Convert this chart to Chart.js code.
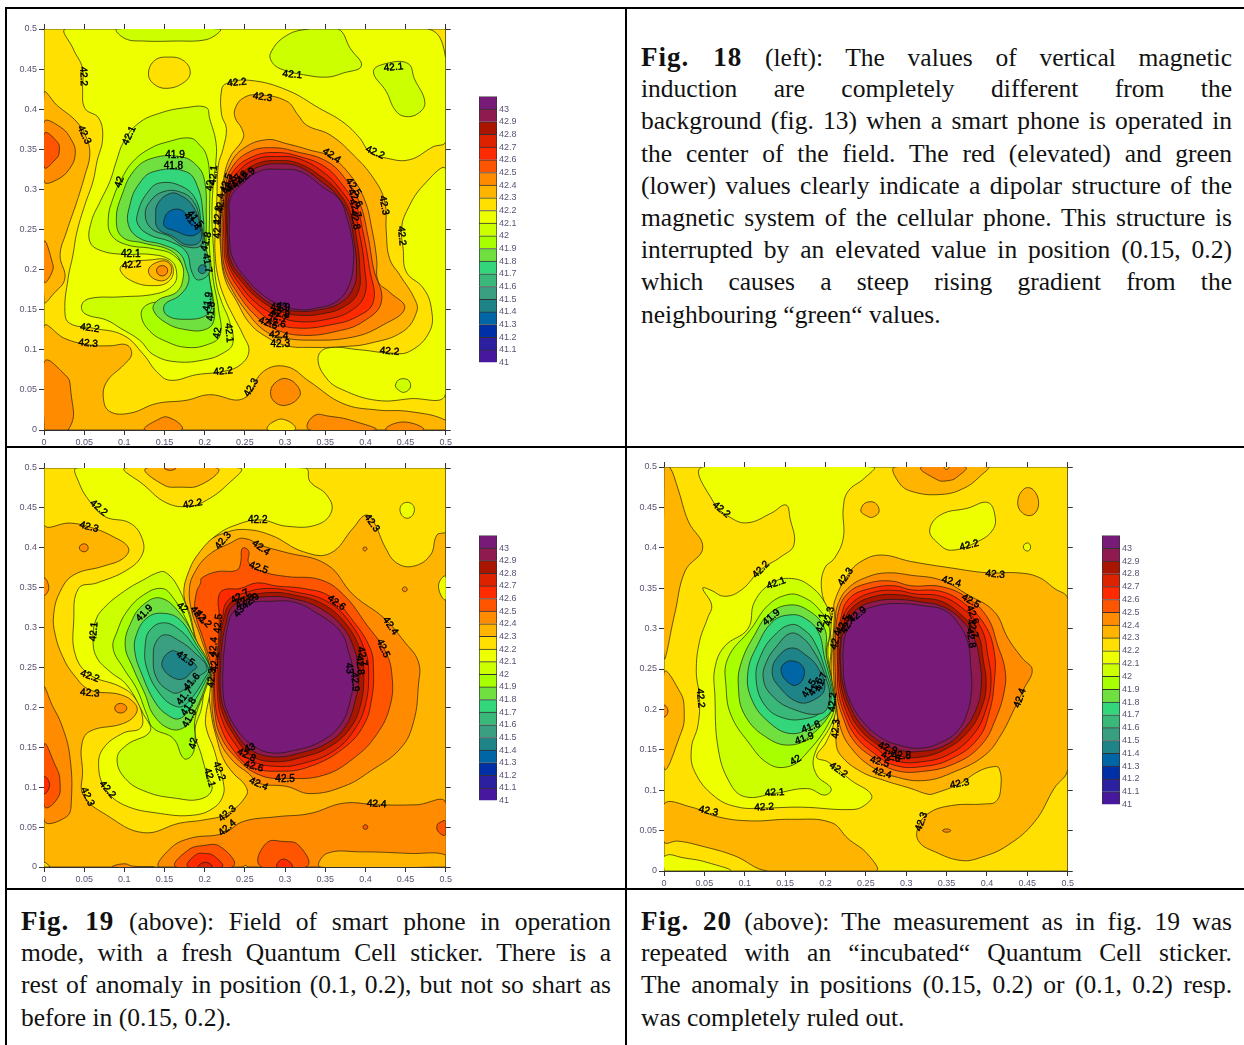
<!DOCTYPE html>
<html>
<head>
<meta charset="utf-8">
<title>Fig. 18-20</title>
<script src="https://cdn.jsdelivr.net/npm/chart.js@4"></script>
<style>
html, body { margin: 0; padding: 0; background: #fff; }
#page { position: relative; width: 1244px; height: 1045px; overflow: hidden; }
#page canvas { position: absolute; }
.rule { position: absolute; background: #000; }
.line { position: absolute; height: 32px; line-height: 32px; font-family: "Liberation Serif", serif; font-size: 25.5px;
        color: #111; white-space: nowrap; text-align: justify; text-align-last: justify; }
.line.last { text-align-last: left; }
.line b { letter-spacing: 1px; font-size: 27px; }
</style>
</head>
<body>
<div id="page"></div>
<script>
// axis values, in thousandths of the axis unit for the contour vertices
const axisMax = 0.5;
const axisStep = 0.05;

// legend levels, low to high, and the colour of the band that starts at each level
const levels = [41, 41.1, 41.2, 41.3, 41.4, 41.5, 41.6, 41.7, 41.8, 41.9, 42, 42.1, 42.2, 42.3, 42.4, 42.5, 42.6, 42.7, 42.8, 42.9, 43];
const levelTops = [41.1, 41.2, 41.3, 41.4, 41.5, 41.6, 41.7, 41.8, 41.9, 42, 42.1, 42.2, 42.3, 42.4, 42.5, 42.6, 42.7, 42.8, 42.9, 43, 43.1];
const bandColors = ['#47189e', '#2c1fa0', '#0030a8', '#0066a6', '#1f8488', '#3a9e80', '#3ab87a', '#33d67a', '#70e040', '#a8ff00',
    '#ccff00', '#eeff00', '#ffe000', '#ffb400', '#ff8c00', '#ff5500', '#ff2a00', '#dd2200', '#aa1500', '#8e1a50', '#771a78'];

// contours: [band level, x,y,x,y,...], painted in this order
const fig18Contours = [
    [42.2, [0,0, 500,0, 500,500, 0,500]],
    [42.1, [28,500, 476,500, 500,463, 500,360, 484,353, 455,337, 426,339, 405,347, 393,364, 372,384, 343,401, 302,424, 256,436, 227,432, 221,424, 221,393, 227,376, 223,351, 217,330, 215,285, 213,247, 213,218, 217,189, 225,164, 235,143, 248,118, 255,98, 244,81, 223,73, 190,69, 157,62, 140,73, 124,94, 99,118, 61,127, 32,133, 26,148, 30,189, 36,218, 41,247, 51,281, 61,310, 66,335, 73,364, 68,389, 51,401, 48,426, 48,451, 36,476]],
    [42.1, [341,89, 352,102, 393,100, 430,96, 455,98, 480,123, 482,152, 472,177, 451,197, 447,226, 445,251, 451,272, 472,305, 500,324, 500,46, 455,39, 414,37, 372,50, 352,64]],
    [42.3, [0,420, 16,405, 41,384, 53,364, 57,343, 51,318, 41,285, 28,247, 20,218, 26,189, 12,170, 0,160]],
    [42.4, [0,384, 20,378, 34,362, 39,345, 32,326, 16,312, 0,310]],
    [42.5, [0,369, 14,362, 19,348, 12,335, 0,328]],
    [42.4, [0,235, 10,210, 10,197, 0,185]],
    [42.3, [0,129, 26,114, 57,106, 82,105, 103,106, 109,94, 99,81, 78,60, 74,39, 82,23, 107,21, 140,33, 177,37, 206,44, 248,39, 273,73, 302,79, 331,60, 372,33, 414,25, 455,23, 500,12, 500,0, 0,0]],
    [42.4, [0,84, 24,71, 33,52, 30,0, 0,0]],
    [42.4, [282,48, 289,60, 302,64, 316,54, 318,42, 302,31, 287,35]],
    [42.4, [126,0, 140,12, 157,15, 171,0]],
    [42.2, [279,0, 285,10, 302,12, 312,0]],
    [42.4, [331,0, 335,17, 356,17, 389,10, 412,0]],
    [42.4, [426,0, 447,10, 472,0]],
    [42.2, [130,445, 138,461, 155,465, 173,461, 182,447, 175,434, 153,426, 136,432]],
    [42, [91,500, 101,488, 124,485, 165,485, 198,486, 213,492, 219,500]],
    [42, [282,470, 302,492, 331,500, 366,500, 381,476, 395,454, 372,445, 352,440, 323,443, 298,449, 285,457]],
    [42, [410,447, 426,457, 453,457, 461,438, 474,409, 466,395, 449,391, 437,399, 426,422]],
    [42, [438,58, 447,64, 456,58, 451,48, 441,50]],
    [42, [202,402, 177,402, 144,395, 117,382, 99,359, 90,335, 82,310, 70,285, 59,260, 57,235, 70,224, 99,219, 132,219, 157,212, 165,197, 161,181, 140,170, 95,166, 57,164, 47,156, 51,145, 78,137, 95,127, 119,112, 136,94, 165,85, 202,88, 223,96, 235,108, 231,135, 221,160, 214,185, 211,226, 209,268, 211,310, 214,335, 214,359, 206,389]],
    [41.9, [182,364, 153,359, 132,351, 111,335, 97,314, 86,289, 80,264, 84,243, 103,231, 136,226, 161,218, 175,197, 169,172, 153,162, 128,156, 121,143, 132,123, 153,110, 177,103, 202,106, 219,118, 217,152, 211,185, 206,226, 206,268, 206,318, 202,343, 194,355]],
    [41.8, [169,341, 132,338, 111,322, 97,293, 90,264, 97,241, 124,233, 157,224, 171,208, 173,189, 165,172, 142,162, 136,150, 153,133, 177,125, 200,125, 211,135, 211,160, 206,189, 202,226, 202,268, 200,310, 190,330]],
    [41.7, [177,322, 136,322, 117,305, 107,281, 105,256, 119,239, 148,231, 169,220, 177,202, 180,185, 169,168, 150,156, 153,143, 177,138, 202,143, 209,156, 206,189, 200,226, 198,268, 192,301]],
    [41.6, [144,308, 128,295, 117,272, 117,256, 132,243, 157,235, 177,222, 184,197, 192,187, 206,197, 202,226, 196,256, 190,285, 173,303]],
    [41.5, [148,297, 132,285, 126,268, 134,251, 157,241, 175,229, 196,231, 194,260, 186,285, 169,297]],
    [41.4, [157,295, 142,283, 139,268, 142,251, 161,241, 177,231, 194,235, 194,256, 184,281, 169,293]],
    [41.3, [149,260, 155,272, 169,275, 180,266, 194,251, 194,247, 182,242, 161,249, 151,253]],
    [41.4, [192,200, 197,206, 202,200, 197,195]],
    [42.2, [95,199, 101,208, 132,212, 153,212, 161,200, 155,185, 136,180, 111,185]],
    [42.3, [130,199, 138,208, 153,210, 159,199, 151,187, 136,189]],
    [42.4, [140,199, 147,205, 154,199, 147,192]],
    [42.3, [238,401, 248,414, 267,418, 302,410, 316,393, 327,380, 356,368, 385,343, 410,314, 424,285, 426,247, 430,214, 443,193, 461,164, 464,148, 447,123, 405,108, 372,104, 331,103, 302,105, 277,116, 256,133, 240,160, 225,189, 220,226, 218,268, 223,310, 231,339, 248,364, 246,376, 238,389]],
    [42.4, [223,301, 231,330, 248,351, 277,362, 302,357, 331,349, 356,341, 381,318, 399,287, 408,251, 414,214, 416,185, 430,172, 449,152, 422,131, 385,116, 331,112, 294,116, 273,125, 252,148, 233,177, 223,202, 220,235, 220,268]],
    [42.5, [225,297, 233,326, 256,347, 285,352, 314,347, 352,335, 376,312, 393,283, 403,243, 410,202, 420,160, 397,135, 364,123, 323,118, 289,125, 265,141, 240,172, 225,202, 222,235, 222,268]],
    [42.6, [227,297, 235,322, 260,341, 289,346, 318,341, 350,328, 372,305, 389,278, 397,247, 405,202, 410,160, 389,141, 356,131, 318,127, 289,133, 265,150, 242,177, 227,206, 224,235, 224,268]],
    [42.7, [228,297, 238,318, 262,337, 294,341, 318,338, 347,322, 368,301, 385,274, 393,243, 399,202, 399,168, 381,148, 352,138, 318,135, 294,141, 267,156, 244,181, 229,208, 226,235, 226,268]],
    [42.8, [229,297, 240,314, 265,332, 294,336, 318,332, 345,316, 366,297, 381,272, 389,239, 393,202, 391,172, 374,154, 347,145, 318,143, 294,148, 269,162, 246,185, 231,208, 228,235, 227,268]],
    [42.9, [231,293, 244,312, 267,328, 294,332, 318,328, 345,310, 366,291, 379,268, 386,235, 389,202, 385,177, 368,158, 343,150, 318,148, 294,152, 271,165, 248,189, 233,210, 229,235, 229,268]],
    [43, [232,289, 248,308, 269,323, 294,325, 320,322, 347,303, 368,287, 377,264, 384,235, 385,206, 379,179, 364,160, 339,152, 318,150, 294,156, 273,168, 250,191, 235,214, 231,235, 231,264]]
];

const fig19Contours = [
    [42.3, [0,0, 500,0, 500,500, 0,500]],
    [42.2, [0,500, 0,429, 32,431, 57,426, 86,414, 105,400, 99,387, 74,377, 37,366, 20,345, 12,316, 14,291, 24,262, 37,241, 57,222, 95,216, 113,205, 115,193, 99,180, 57,170, 47,153, 48,120, 49,90, 78,65, 124,43, 169,55, 199,59, 228,67, 252,90, 250,103, 236,117, 223,136, 215,161, 209,186, 205,224, 206,249, 199,266, 186,291, 172,341, 172,375, 186,395, 203,408, 223,418, 248,423, 282,416, 323,395, 356,393, 385,425, 400,441, 410,433, 425,400, 439,381, 460,377, 481,391, 489,416, 500,421, 500,500]],
    [42.1, [41,500, 43,483, 57,458, 76,439, 107,431, 122,412, 122,391, 103,372, 66,356, 43,349, 37,308, 39,266, 57,241, 95,226, 113,212, 122,191, 120,174, 99,168, 74,149, 68,126, 76,99, 99,78, 145,67, 186,65, 211,74, 223,90, 223,107, 217,128, 211,149, 203,170, 201,186, 207,224, 205,249, 190,283, 182,316, 174,341, 180,370, 194,395, 215,416, 240,429, 269,435, 302,427, 340,429, 358,446, 352,466, 331,483, 325,500]],
    [42.2, [101,500, 124,479, 153,456, 182,452, 203,460, 228,479, 244,500]],
    [42.3, [128,500, 145,481, 169,476, 199,481, 215,500]],
    [42.4, [150,500, 157,497, 164,500]],
    [42, [145,370, 124,360, 99,345, 74,324, 64,308, 61,283, 66,262, 82,245, 103,228, 124,191, 132,170, 103,153, 91,136, 101,111, 128,94, 165,86, 194,85, 209,97, 203,115, 196,140, 188,170, 196,199, 199,220, 203,245, 190,274, 186,295, 178,324, 165,354, 153,368]],
    [41.9, [147,349, 124,341, 103,320, 91,295, 86,274, 99,249, 115,224, 128,191, 136,174, 161,161, 174,136, 184,140, 188,157, 188,186, 203,228, 207,249, 190,278, 178,308, 161,337]],
    [41.8, [145,337, 124,329, 109,308, 101,278, 111,249, 126,216, 136,191, 157,173, 176,176, 188,195, 203,232, 207,249, 190,283, 169,318]],
    [41.7, [147,318, 128,312, 115,291, 113,270, 122,241, 138,207, 153,191, 169,186, 184,203, 203,237, 207,249, 190,278, 169,310]],
    [41.6, [149,306, 132,297, 126,278, 128,249, 145,216, 165,201, 178,205, 203,241, 205,249, 186,278, 169,297]],
    [41.5, [151,291, 140,283, 136,266, 140,237, 157,220, 169,219, 190,237, 203,249, 186,270, 169,283]],
    [41.4, [157,270, 148,260, 148,249, 161,237, 174,236, 184,245, 190,251, 178,262, 165,270]],
    [42.4, [205,391, 232,406, 248,412, 273,402, 298,395, 352,379, 385,341, 423,312, 448,283, 466,257, 466,228, 460,182, 444,149, 406,120, 373,101, 331,92, 302,101, 267,105, 255,117, 236,132, 219,157, 210,191, 209,224, 207,249, 194,291, 184,320, 181,349, 188,370]],
    [42.5, [196,362, 215,370, 240,372, 245,383, 246,398, 250,400, 255,395, 255,381, 273,370, 302,364, 344,360, 373,341, 402,303, 425,270, 433,241, 431,203, 414,166, 385,136, 348,115, 302,111, 269,115, 240,136, 219,166, 212,199, 211,224, 209,249, 199,283, 188,320, 190,345, 195,356]],
    [42.6, [218,316, 217,337, 223,347, 244,349, 265,356, 290,352, 323,349, 356,339, 385,308, 406,274, 410,249, 408,212, 398,178, 373,149, 331,126, 294,120, 257,126, 234,149, 219,178, 213,207, 213,249, 217,283]],
    [42.7, [222,312, 228,333, 248,343, 277,349, 311,345, 352,333, 381,306, 400,270, 404,245, 400,203, 385,170, 360,145, 323,130, 290,126, 257,134, 236,157, 221,186, 216,216, 216,257, 219,291]],
    [42.8, [223,308, 232,331, 252,339, 282,344, 311,341, 348,329, 377,303, 394,270, 398,241, 394,203, 381,174, 356,151, 323,138, 286,132, 257,140, 238,163, 223,191, 218,216, 218,257, 220,287]],
    [42.9, [226,303, 234,326, 255,335, 282,339, 311,336, 344,324, 373,299, 387,270, 392,241, 387,207, 375,176, 352,155, 319,143, 286,138, 257,147, 240,166, 226,193, 220,216, 220,257, 222,283]],
    [43, [228,299, 236,320, 257,331, 282,333, 311,332, 340,318, 369,295, 379,270, 385,241, 382,212, 369,178, 344,157, 315,147, 282,143, 259,153, 242,170, 228,195, 223,216, 223,257, 225,278]],
    [42.1, [443,448, 452,457, 461,448, 452,437]],
    [42.1, [500,364, 491,352, 500,335]],
    [42.4, [44,400, 50,405, 55,400, 50,395]],
    [42.4, [397,399, 399,401, 402,399, 399,396]],
    [42.4, [446,348, 449,351, 452,348, 449,345]],
    [42.4, [88,199, 95,205, 103,199, 95,193]],
    [42.2, [0,6, 7,0, 0,0]],
    [42.4, [0,362, 6,350, 0,341]],
    [42.4, [0,224, 10,203, 22,178, 32,140, 34,82, 28,63, 0,59]],
    [42.5, [0,153, 12,132, 20,105, 14,82, 0,77]],
    [42.6, [0,113, 7,103, 0,92]],
    [42.4, [500,81, 464,78, 414,78, 373,80, 331,67, 290,63, 248,57, 223,42, 182,36, 157,23, 145,0, 500,0]],
    [42.3, [344,0, 352,17, 394,19, 456,17, 500,15, 500,0]],
    [42.5, [165,0, 174,17, 199,27, 223,23, 234,0]],
    [42.6, [180,0, 186,13, 201,17, 215,11, 221,0]],
    [42.7, [192,0, 201,6, 209,0]],
    [42.5, [271,0, 275,28, 298,32, 319,25, 326,0]],
    [42.6, [290,0, 298,10, 309,0]],
    [42.5, [397,50, 400,53, 403,50, 400,47]],
    [42.5, [489,51, 495,57, 500,57, 500,41, 493,42]],
    [42.2, [248,0, 251,2, 253,0]],
    [42.4, [86,0, 99,4, 111,1, 136,0]]
];

const fig20Contours = [
    [42.2, [0,0, 500,0, 500,500, 0,500]],
    [42.3, [0,500, 7,500, 17,474, 30,433, 48,400, 26,371, 13,317, 0,265]],
    [42.3, [0,245, 15,230, 25,199, 17,160, 0,128]],
    [42.4, [0,205, 5,198, 0,191]],
    [42.1, [48,500, 61,457, 83,437, 104,431, 133,443, 151,453, 156,437, 161,404, 145,389, 120,373, 96,348, 75,340, 57,348, 48,350, 59,329, 54,313, 44,284, 40,247, 44,214, 42,180, 34,152, 38,123, 63,92, 92,79, 125,78, 170,79, 232,76, 248,81, 257,94, 232,112, 203,135, 189,141, 201,160, 211,189, 205,218, 205,251, 207,280, 203,317, 195,350, 199,375, 211,387, 222,412, 222,449, 228,470, 248,486, 259,500]],
    [42.1, [329,422, 343,441, 376,449, 401,456, 410,439, 407,422, 389,408, 356,397, 339,406]],
    [42.1, [445,401, 450,406, 454,401, 450,396]],
    [42.3, [0,83, 34,79, 67,67, 108,62, 158,64, 207,60, 228,40, 252,21, 262,0, 129,0, 87,19, 46,31, 17,37, 0,36]],
    [42.1, [0,18, 26,16, 59,9, 81,0, 0,0]],
    [42, [158,362, 133,356, 112,333, 104,300, 75,278, 63,251, 63,218, 67,152, 81,110, 100,92, 137,96, 178,102, 199,94, 207,102, 189,119, 186,143, 207,181, 213,201, 211,226, 203,267, 207,309, 201,329, 182,352]],
    [41.9, [153,342, 129,329, 108,300, 79,263, 77,226, 83,193, 104,160, 129,133, 153,129, 174,143, 207,189, 211,218, 201,267, 205,300, 191,325, 170,340]],
    [41.8, [153,329, 129,317, 112,292, 96,259, 92,230, 100,193, 129,164, 158,156, 182,168, 207,197, 211,218, 201,267, 199,300, 178,323]],
    [41.7, [156,317, 135,309, 116,280, 104,247, 108,214, 129,185, 158,170, 186,181, 209,201, 209,222, 199,263, 191,296, 174,313]],
    [41.6, [158,305, 137,292, 120,267, 114,238, 125,205, 149,189, 178,189, 195,197, 207,214, 199,251, 186,284, 174,298]],
    [41.5, [156,294, 141,280, 127,259, 123,238, 133,218, 158,201, 195,195, 205,214, 199,243, 186,271, 170,290]],
    [41.4, [158,276, 141,265, 134,247, 141,230, 166,209, 186,212, 199,226, 191,251, 176,267]],
    [41.3, [160,260, 149,257, 145,247, 153,234, 164,230, 173,240, 172,253]],
    [42.3, [211,333, 228,367, 244,383, 269,391, 306,383, 356,375, 401,369, 438,369, 463,364, 483,350, 500,336, 500,127, 483,102, 459,61, 426,32, 393,17, 368,13, 335,24, 316,36, 314,52, 327,71, 356,81, 397,83, 411,86, 417,102, 415,127, 407,129, 389,123, 366,108, 335,96, 327,95, 306,102, 273,112, 244,123, 219,143, 213,160, 215,185, 211,218, 207,247, 209,284, 211,317]],
    [42.4, [215,329, 228,350, 252,364, 277,369, 306,366, 343,360, 376,342, 409,321, 426,288, 444,263, 456,249, 446,226, 434,201, 417,168, 397,143, 360,123, 323,112, 285,117, 257,129, 232,152, 219,176, 213,209, 210,247, 210,280, 212,309]],
    [42.5, [216,321, 228,344, 252,356, 281,359, 306,353, 343,352, 376,338, 401,313, 413,280, 422,251, 422,226, 411,189, 393,156, 360,133, 318,123, 285,125, 261,139, 236,160, 222,189, 214,218, 212,247, 212,280]],
    [42.6, [219,313, 230,338, 257,350, 285,353, 306,348, 343,346, 372,331, 397,305, 409,271, 409,234, 403,197, 389,164, 356,139, 318,129, 285,131, 261,145, 238,166, 224,193, 216,222, 215,251, 215,280]],
    [42.7, [220,309, 232,331, 259,345, 290,347, 310,343, 343,340, 370,325, 393,300, 401,267, 405,234, 399,201, 384,170, 354,145, 318,135, 285,137, 263,152, 240,172, 226,197, 218,226, 216,251, 216,280]],
    [42.8, [222,305, 234,327, 261,340, 290,342, 314,338, 343,334, 368,317, 389,292, 395,263, 399,230, 393,201, 378,174, 351,152, 318,141, 290,143, 265,156, 242,176, 228,201, 220,226, 218,251, 218,280]],
    [42.9, [224,300, 238,323, 263,334, 290,336, 318,333, 343,328, 366,313, 384,288, 391,259, 393,230, 387,201, 372,176, 349,156, 318,148, 290,150, 267,160, 244,181, 230,205, 222,230, 219,251, 219,280]],
    [43, [226,296, 242,319, 267,329, 294,331, 323,328, 347,323, 364,307, 376,284, 380,251, 381,226, 376,197, 364,174, 345,160, 318,152, 290,156, 267,166, 246,185, 232,207, 224,230, 222,251, 222,276]],
    [42.3, [286,500, 290,482, 306,470, 343,466, 372,474, 393,490, 401,500]],
    [42.4, [319,500, 335,486, 351,483, 366,490, 373,500]],
    [42.3, [347,500, 350,497, 353,500]],
    [42.3, [244,448, 255,457, 266,449, 261,439, 250,440]],
    [42.3, [438,457, 446,473, 457,472, 464,455, 457,441, 444,443]],
    [42.4, [345,50, 350,52, 355,50, 350,48]]
];

// contour labels: x, y, text, rotation in degrees
const fig18Labels = [
    [49,441,'42.2',88], [50,368,'42.3',65], [106,367,'42.1',-65], [94,309,'42',-70], [163,343,'41.9',0], [161,329,'41.8',0],
    [211,318,'42.1',-85], [207,305,'42',-85], [220,283,'42.4',-85], [217,268,'42.3',-85], [216,251,'42.2',-88],
    [227,308,'42.5',-70], [231,306,'42.6',-60], [237,308,'42.7',-55], [244,312,'42.8',-50], [252,317,'42.9',-40],
    [188,263,'41.5',50], [184,260,'41.4',50], [202,235,'41.8',-75], [203,208,'41.7',80], [108,219,'42.1',0], [109,206,'42.2',-5],
    [204,160,'41.9',-80], [208,148,'41.8',-85], [216,121,'42',-80], [230,121,'42.1',85], [57,127,'42.2',8], [55,108,'42.3',5],
    [223,73,'42.2',-5], [258,53,'42.3',-60], [430,98,'42.2',5], [294,107,'42.3',0], [292,118,'42.4',5], [279,133,'42.5',20],
    [289,133,'42.6',10], [291,141,'42.7',15], [294,145,'42.8',10], [294,152,'42.9',0], [296,154,'43',10], [240,433,'42.2',-5],
    [272,415,'42.3',8], [309,443,'42.1',5], [435,452,'42.1',-5], [358,342,'42.4',35], [412,346,'42.2',25], [385,303,'42.5',55],
    [387,289,'42.6',60], [387,276,'42.7',70], [387,262,'42.8',80], [423,280,'42.3',80], [445,242,'42.2',85]
];
const fig19Labels = [
    [68,450,'42.2',40], [185,455,'42.2',-10], [266,434,'42.2',0], [56,426,'42.3',15], [223,409,'42.3',-50], [270,400,'42.4',35],
    [267,375,'42.5',20], [408,431,'42.3',55], [125,318,'41.9',-45], [172,325,'42',40], [192,316,'42.1',50], [198,311,'42.2',50],
    [62,295,'42.1',-85], [57,239,'42.2',20], [57,218,'42.3',5], [217,305,'42.5',-85], [244,339,'42.7',-30], [250,333,'42.8',-30],
    [243,320,'43',-50], [257,333,'42.9',-40], [364,331,'42.6',35], [431,302,'42.4',55], [422,274,'42.5',65], [396,264,'42.7',80],
    [393,253,'42.8',85], [387,232,'42.9',85], [380,249,'43',85], [211,276,'42.4',-85], [213,257,'42.2',-85], [209,237,'42.3',-85],
    [176,261,'41.5',35], [184,232,'41.6',-50], [175,214,'41.7',-50], [180,201,'41.8',-55], [181,186,'41.9',-60], [186,155,'42',-75],
    [218,120,'42.2',70], [206,112,'42.1',75], [79,97,'42.2',50], [54,88,'42.3',65], [228,67,'42.3',-40], [228,49,'42.4',-40],
    [267,104,'42.4',25], [300,110,'42.5',0], [261,126,'42.6',15], [252,140,'42.8',25], [256,149,'43',-20], [414,79,'42.4',3]
];
const fig20Labels = [
    [71,447,'42.2',40], [120,373,'42.2',-45], [139,356,'42.1',-20], [133,314,'41.9',-40], [225,364,'42.3',-55], [356,358,'42.4',15],
    [410,367,'42.3',5], [378,403,'42.2',-15], [380,334,'42.5',30], [382,317,'42.6',70], [382,300,'42.7',75], [380,288,'42.8',80],
    [45,214,'42.2',85], [441,214,'42.4',-70], [366,108,'42.3',-10], [319,61,'42.3',-70], [216,125,'42.2',35], [270,121,'42.4',15],
    [267,135,'42.5',15], [281,141,'42.6',15], [294,142,'42.8',0], [277,152,'42.9',20], [137,97,'42.1',-3], [124,79,'42.2',-3],
    [55,74,'42.3',12], [163,137,'42',-30], [174,164,'41.9',-20], [182,178,'41.8',-20], [180,226,'41.5',-60], [188,228,'41.6',-60],
    [195,234,'41.7',-70], [213,176,'42.3',-85], [209,209,'42.2',-85], [195,307,'42.1',-80], [205,315,'42.3',-80], [213,286,'42.4',-75],
    [222,305,'42.5',-60], [228,305,'42.7',-60], [240,317,'42.9',-40]
];

// captions, one entry per printed line
const fig18Text = [
    '<b>Fig. 18</b> (left): The values of vertical magnetic',
    'induction are completely different from the',
    'background (fig. 13) when a smart phone is operated in',
    'the center of the field. The red (elevated) and green',
    '(lower) values clearly indicate a dipolar structure of the',
    'magnetic system of the cellular phone. This structure is',
    'interrupted by an elevated value in position (0.15, 0.2)',
    'which causes a steep rising gradient from the',
    'neighbouring “green“ values.'
];
const fig19Text = [
    '<b>Fig. 19</b> (above): Field of smart phone in operation',
    'mode, with a fresh Quantum Cell sticker. There is a',
    'rest of anomaly in position (0.1, 0.2), but not so shart as',
    'before in (0.15, 0.2).'
];
const fig20Text = [
    '<b>Fig. 20</b> (above): The measurement as in fig. 19 was',
    'repeated with an “incubated“ Quantum Cell sticker.',
    'The anomaly in positions (0.15, 0.2) or (0.1, 0.2) resp.',
    'was completely ruled out.'
];

const page = document.getElementById('page');
const tickColor = '#5c5272';
Chart.defaults.font.family = '"Liberation Sans", Arial, sans-serif';
Chart.defaults.font.size = 9;
Chart.defaults.color = tickColor;
Chart.defaults.animation = false;

// Draw the rotated contour labels on top of the bands
const contourLabels = {
    id: 'contourLabels',
    afterDatasetsDraw(chart, args, opts) {
        const { ctx, scales: { x, y } } = chart;
        ctx.save();
        ctx.font = '10px "Liberation Sans", Arial, sans-serif';
        ctx.textAlign = 'center';
        ctx.textBaseline = 'middle';
        ctx.fillStyle = '#000';
        ctx.strokeStyle = '#000';
        ctx.lineWidth = 0.45;
        for (const [vx, vy, text, angle] of opts.items) {
            ctx.save();
            ctx.translate(x.getPixelForValue(vx / 1000), y.getPixelForValue(vy / 1000));
            ctx.rotate(angle * Math.PI / 180);
            ctx.fillText(text, 0, 0);
            ctx.strokeText(text, 0, 0);
            ctx.restore();
        }
        ctx.restore();
    }
};

// Contours are closed curves, so let the line element treat them as loops
const closedContours = {
    id: 'closedContours',
    beforeDatasetUpdate(chart, args) {
        const line = chart.getDatasetMeta(args.index).dataset;
        if (line) {
            line._loop = true;
            line._fullLoop = true;
        }
    }
};

function addCanvas(left, top, width, height) {
    const canvas = document.createElement('canvas');
    canvas.width = width;
    canvas.height = height;
    canvas.style.left = left + 'px';
    canvas.style.top = top + 'px';
    canvas.style.width = width + 'px';
    canvas.style.height = height + 'px';
    page.appendChild(canvas);
    return canvas;
}

function toPoints(flat) {
    const points = [];
    const add = (x, y) => points.push({ x: x / 1000, y: y / 1000 });
    for (let i = 0; i < flat.length; i += 2) {
        const x = flat[i], y = flat[i + 1];
        add(x, y);
        // a plot corner stays sharp under the curve tension
        if ((x === 0 || x === 500) && (y === 0 || y === 500)) {
            add(x, y);
            add(x, y);
        }
    }
    return points;
}

// left/top/width/height: where the plot box sits on the page
function contourChart(contours, labels, left, top, width, height) {
    const pad = { left: 40, right: 8, top: 8, bottom: 17 };
    const canvas = addCanvas(left - pad.left, top - pad.top, width + pad.left + pad.right, height + pad.top + pad.bottom);
    const fit = (prop, size) => (scale) => { scale[prop] = size; };
    const axis = (extra) => Object.assign({
        type: 'linear',
        min: 0,
        max: axisMax,
        border: { color: '#333', width: 1 },
        grid: { drawOnChartArea: false, drawTicks: true, tickLength: 5, color: '#333' },
        ticks: { stepSize: axisStep, autoSkip: false, maxRotation: 0, padding: 2, callback: (v) => String(+v.toFixed(2)) }
    }, extra);
    const hiddenTicks = { stepSize: axisStep, autoSkip: false, display: false };
    new Chart(canvas, {
        type: 'scatter',
        data: {
            datasets: contours.map(([band, flat], i) => ({
                data: toPoints(flat),
                showLine: true,
                fill: 'shape',
                backgroundColor: bandColors[levels.indexOf(band)],
                borderColor: 'rgba(25,25,10,0.85)',
                borderWidth: 0.8,
                pointRadius: 0,
                tension: flat.length <= 10 ? 0.55 : 0.42,
                order: contours.length - i
            }))
        },
        options: {
            responsive: false,
            events: [],
            layout: { padding: 0 },
            plugins: { legend: { display: false }, tooltip: { enabled: false }, contourLabels: { items: labels } },
            scales: {
                x: axis({ position: 'bottom', afterFit: fit('height', pad.bottom) }),
                x2: axis({ position: 'top', ticks: hiddenTicks, afterFit: fit('height', pad.top) }),
                y: axis({ position: 'left', afterFit: fit('width', pad.left) }),
                y2: axis({ position: 'right', ticks: hiddenTicks, afterFit: fit('width', pad.right) })
            }
        },
        plugins: [closedContours, contourLabels]
    });
}

function legendChart(left, top, width, height) {
    const canvas = addCanvas(left - 1, top - 7, width + 1 + 30, height + 14);
    new Chart(canvas, {
        type: 'bar',
        data: {
            labels: ['level'],
            datasets: levels.map((level, i) => ({
                data: [[level, levelTops[i]]],
                grouped: false,
                backgroundColor: bandColors[i],
                borderColor: '#333',
                borderWidth: 1,
                barPercentage: 1,
                categoryPercentage: 1
            }))
        },
        options: {
            responsive: false,
            events: [],
            layout: { padding: { left: 1, top: 6, bottom: 6 } },
            plugins: { legend: { display: false }, tooltip: { enabled: false } },
            scales: {
                x: { display: false },
                y: {
                    position: 'right',
                    min: levels[0],
                    max: levelTops[levelTops.length - 1],
                    border: { display: false },
                    grid: { display: false, drawTicks: false },
                    ticks: { stepSize: 0.1, autoSkip: false, padding: 2, color: tickColor,
                        callback: (v) => (v > 43.05 ? '' : String(+v.toFixed(1))) },
                    afterFit: (scale) => { scale.width = 30; }
                }
            }
        }
    });
}

function addRule(left, top, width, height) {
    const rule = document.createElement('div');
    rule.className = 'rule';
    rule.style.cssText = `left:${left}px;top:${top}px;width:${width}px;height:${height}px`;
    page.appendChild(rule);
}

function addCaption(lines, left, top, width) {
    lines.forEach((html, i) => {
        const line = document.createElement('div');
        line.className = 'line' + (i === lines.length - 1 ? ' last' : '');
        line.style.left = left + 'px';
        line.style.top = (top + i * 32.2) + 'px';
        line.style.width = width + 'px';
        line.innerHTML = html;
        page.appendChild(line);
    });
}

addRule(5, 7, 1239, 2);
addRule(5, 446, 1239, 2);
addRule(5, 888, 1239, 2);
addRule(5, 7, 2, 1038);
addRule(625, 7, 2, 1038);

contourChart(fig18Contours, fig18Labels, 44, 29, 402, 401);
contourChart(fig19Contours, fig19Labels, 44, 468, 402, 399);
contourChart(fig20Contours, fig20Labels, 664, 467, 404, 404);

legendChart(479, 96, 18, 267);
legendChart(479, 535, 18, 266);
legendChart(1102, 535, 18, 270);

addCaption(fig18Text, 641, 41, 591);
addCaption(fig19Text, 21, 905, 590);
addCaption(fig20Text, 641, 905, 591);
</script>
</body>
</html>
